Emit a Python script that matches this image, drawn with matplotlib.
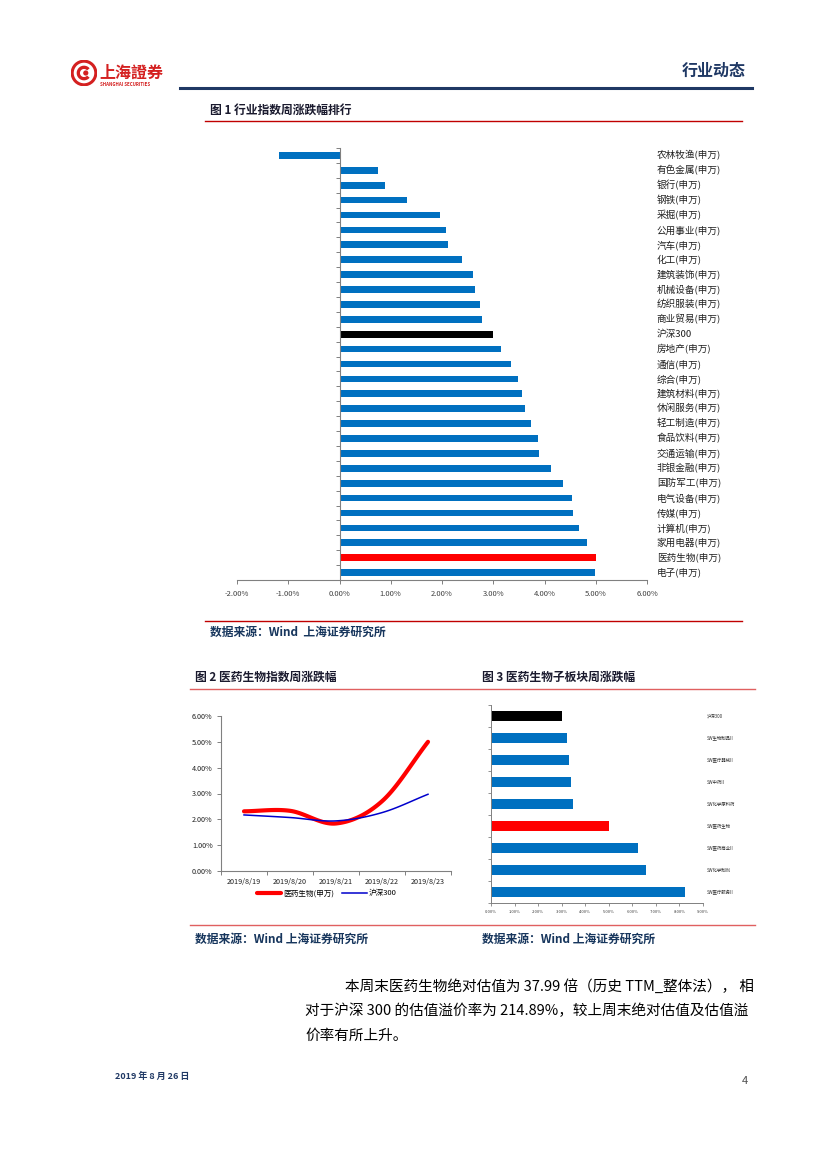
import numpy as np
import matplotlib.pyplot as plt
import matplotlib.transforms as mtransforms
from matplotlib.lines import Line2D
from matplotlib.patches import Circle, Wedge

plt.rcParams['font.family'] = ['Noto Sans CJK SC', 'DejaVu Sans']

################################################################
##### data

# figure 1: weekly change of industry indices (%)
INDUSTRIES = [
    "农林牧渔(申万)", "有色金属(申万)", "银行(申万)", "钢铁(申万)",
    "采掘(申万)", "公用事业(申万)", "汽车(申万)", "化工(申万)",
    "建筑装饰(申万)", "机械设备(申万)", "纺织服装(申万)", "商业贸易(申万)",
    "沪深300", "房地产(申万)", "通信(申万)", "综合(申万)",
    "建筑材料(申万)", "休闲服务(申万)", "轻工制造(申万)", "食品饮料(申万)",
    "交通运输(申万)", "非银金融(申万)", "国防军工(申万)", "电气设备(申万)",
    "传媒(申万)", "计算机(申万)", "家用电器(申万)", "医药生物(申万)",
    "电子(申万)",
]
INDUSTRY_CHANGE = [
    -1.18, 0.75, 0.89, 1.31,
    1.96, 2.08, 2.12, 2.39,
    2.61, 2.65, 2.74, 2.79,
    2.99, 3.15, 3.34, 3.48,
    3.56, 3.62, 3.74, 3.88,
    3.90, 4.12, 4.36, 4.53,
    4.55, 4.67, 4.83, 5.01,
    4.99,
]
FIG1_TICKS = [-2, -1, 0, 1, 2, 3, 4, 5, 6]

# figure 2: cumulative change over the week (%)
DATES = ["2019/8/19", "2019/8/20", "2019/8/21", "2019/8/22", "2019/8/23"]
PHARMA_LINE = [2.31, 2.33, 1.84, 2.70, 5.00]
HS300_LINE = [2.17, 2.07, 1.94, 2.26, 2.97]
FIG2_TICKS = [0, 1, 2, 3, 4, 5, 6]

# figure 3: pharma sub-sectors (%)
SUBSECTORS = [
    "沪深300", "SW生物制品II", "SW医疗器械II", "SW中药II", "SW化学原料药",
    "SW医药生物", "SW医药商业II", "SW化学制剂", "SW医疗服务II",
]
SUBSECTOR_CHANGE = [3.01, 3.23, 3.33, 3.38, 3.49, 5.03, 6.25, 6.58, 8.22]
FIG3_TICKS = [0, 1, 2, 3, 4, 5, 6, 7, 8, 9]

BLUE = "#0070C0"
NAVY = "#1F3864"
SOURCE_TEXT = "数据来源：Wind  上海证券研究所"

################################################################

W, H = 827, 1169
fig = plt.figure(figsize=(W / 100, H / 100), dpi=100)


def px_axes(x0, y0, x1, y1):
    # axes given by pixel corners (top-left origin)
    return fig.add_axes([x0 / W, 1 - y1 / H, (x1 - x0) / W, (y1 - y0) / H])


def px_text(x, y, s, **kw):
    return fig.text(x / W, 1 - y / H, s, **kw)


def px_hline(x0, x1, y, color, lw):
    fig.add_artist(Line2D([x0 / W, x1 / W], [1 - y / H, 1 - y / H],
                          color=color, lw=lw, transform=fig.transFigure))


def bar_colors(names):
    out = []
    for name in names:
        if "沪深300" in name:
            out.append("black")
        elif "医药生物" in name:
            out.append("#FF0000")
        else:
            out.append(BLUE)
    return out


def smooth(xs, ys, steps=24):
    # catmull-rom style curve like excel "smoothed line"
    xs = np.asarray(xs, float)
    ys = np.asarray(ys, float)
    n = len(xs)
    mx = np.zeros(n)
    my = np.zeros(n)
    for i in range(n):
        a = max(i - 1, 0)
        b = min(i + 1, n - 1)
        mx[i] = (xs[b] - xs[a]) / (b - a) if b != a else 0
        my[i] = (ys[b] - ys[a]) / (b - a) if b != a else 0
    px, py = [], []
    t = np.linspace(0, 1, steps)
    h00 = 2 * t**3 - 3 * t**2 + 1
    h10 = t**3 - 2 * t**2 + t
    h01 = -2 * t**3 + 3 * t**2
    h11 = t**3 - t**2
    for i in range(n - 1):
        px.extend(h00 * xs[i] + h10 * mx[i] + h01 * xs[i + 1] + h11 * mx[i + 1])
        py.extend(h00 * ys[i] + h10 * my[i] + h01 * ys[i + 1] + h11 * my[i + 1])
    return px, py


def pct(vals):
    return [f"{v:.2f}%" for v in vals]


# ---------------- header ----------------
logo = px_axes(71, 60, 97, 86)
logo.set_xlim(-1.1, 1.1)
logo.set_ylim(-1.1, 1.1)
logo.set_aspect("equal")
logo.axis("off")
logo.add_patch(Circle((0, 0), 1.0, fc="none", ec="#D42020", lw=2.2))
logo.add_patch(Wedge((0, 0), 0.62, 40, 320, width=0.28, fc="#D42020"))
logo.add_patch(Circle((0.15, 0), 0.22, fc="#D42020"))
px_text(99, 73, "上海證券", fontsize=11.5, fontweight="bold", color="#D42020",
        va="center", ha="left", family=["Noto Sans CJK TC", "DejaVu Sans"])
px_text(100, 84, "SHANGHAI SECURITIES", fontsize=3.2, fontweight="bold",
        color="#D42020", va="center", ha="left")
px_text(746, 71, "行业动态", fontsize=11.5, fontweight="bold", color=NAVY,
        va="center", ha="right")
px_hline(180, 752, 88, NAVY, 2.2)

# ---------------- figure 1 ----------------
px_text(210, 110, "图 1 行业指数周涨跌幅排行", fontsize=8.5, fontweight="bold",
        color="#1A1A2E", va="center", ha="left")
px_hline(205, 742, 121, "#C00000", 1.0)

ax1 = px_axes(237, 148, 647, 580)
n1 = len(INDUSTRIES)
ax1.barh(range(n1), INDUSTRY_CHANGE, height=0.45, color=bar_colors(INDUSTRIES))
ax1.set_ylim(n1 - 0.5, -0.5)
ax1.set_xlim(FIG1_TICKS[0], FIG1_TICKS[-1])
ax1.set_xticks(FIG1_TICKS)
ax1.set_xticklabels(pct(FIG1_TICKS), fontsize=5.5, color="#404040")
ax1.set_yticks([])
ax1.set_yticks(np.arange(-0.5, n1, 1), minor=True)
ax1.tick_params(axis="y", which="minor", length=3, color="#808080", width=0.7)
ax1.tick_params(axis="x", length=3, color="#808080", width=0.7, pad=4)
ax1.spines["left"].set_position(("data", 0))
for side in ["top", "right"]:
    ax1.spines[side].set_visible(False)
for side in ["left", "bottom"]:
    ax1.spines[side].set_color("#808080")
    ax1.spines[side].set_linewidth(0.8)
lab_tr = mtransforms.blended_transform_factory(ax1.transAxes, ax1.transData)
for i, name in enumerate(INDUSTRIES):
    ax1.text(1.024, i, name, transform=lab_tr, fontsize=6.9, va="center",
             ha="left", color="#202020")

px_hline(205, 742, 621, "#C00000", 1.0)
px_text(210, 632, SOURCE_TEXT, fontsize=8.5, fontweight="bold", color="#17365D",
        va="center", ha="left")

# ---------------- figure 2 / 3 titles ----------------
px_text(195, 677, "图 2 医药生物指数周涨跌幅", fontsize=8.5, fontweight="bold",
        color="#1A1A2E", va="center", ha="left")
px_text(482, 677, "图 3 医药生物子板块周涨跌幅", fontsize=8.5, fontweight="bold",
        color="#1A1A2E", va="center", ha="left")
px_hline(190, 755, 689, "#E06060", 1.0)

# ---------------- figure 2 ----------------
ax2 = px_axes(221, 716, 451, 871)
xs = np.arange(len(DATES))
sx, sy = smooth(xs, PHARMA_LINE)
ax2.plot(sx, sy, color="#FF0000", lw=3.0, solid_capstyle="round",
         label="医药生物(申万)")
sx, sy = smooth(xs, HS300_LINE)
ax2.plot(sx, sy, color="#0000CC", lw=1.1, label="沪深300")
ax2.set_xlim(-0.5, len(DATES) - 0.5)
ax2.set_ylim(FIG2_TICKS[0], FIG2_TICKS[-1])
ax2.set_yticks(FIG2_TICKS)
ax2.set_yticklabels(pct(FIG2_TICKS), fontsize=5.2, color="#202020")
ax2.set_xticks(xs)
ax2.set_xticklabels(DATES, fontsize=5.2, color="#202020")
ax2.set_xticks(np.arange(-0.5, len(DATES), 1), minor=True)
ax2.tick_params(axis="x", which="major", length=0, pad=5)
ax2.tick_params(axis="x", which="minor", length=3, color="#808080", width=0.7)
ax2.tick_params(axis="y", length=3, color="#808080", width=0.7, pad=3)
for side in ["top", "right"]:
    ax2.spines[side].set_visible(False)
for side in ["left", "bottom"]:
    ax2.spines[side].set_color("#808080")
    ax2.spines[side].set_linewidth(0.8)
ax2.legend(loc="center", bbox_to_anchor=(0.46, -0.145), ncol=2, frameon=False,
           fontsize=5.5, handlelength=3.2, columnspacing=1.0, handletextpad=0.3)

# ---------------- figure 3 ----------------
ax3 = px_axes(491, 705, 703, 903)
n3 = len(SUBSECTORS)
ax3.barh(range(n3), SUBSECTOR_CHANGE, height=0.45, color=bar_colors(SUBSECTORS))
ax3.set_ylim(n3 - 0.5, -0.5)
ax3.set_xlim(FIG3_TICKS[0], FIG3_TICKS[-1])
ax3.set_xticks(FIG3_TICKS)
ax3.set_xticklabels(pct(FIG3_TICKS), fontsize=3.0, color="#404040")
ax3.set_yticks([])
ax3.set_yticks(np.arange(-0.5, n3, 1), minor=True)
ax3.tick_params(axis="y", which="minor", length=2, color="#808080", width=0.6)
ax3.tick_params(axis="x", length=2, color="#808080", width=0.6, pad=3)
for side in ["top", "right"]:
    ax3.spines[side].set_visible(False)
for side in ["left", "bottom"]:
    ax3.spines[side].set_color("#808080")
    ax3.spines[side].set_linewidth(0.7)
lab_tr3 = mtransforms.blended_transform_factory(ax3.transAxes, ax3.transData)
for i, name in enumerate(SUBSECTORS):
    ax3.text(1.02, i, name, transform=lab_tr3, fontsize=3.2, va="center",
             ha="left", color="#303030")

px_hline(190, 755, 925, "#E06060", 1.0)
px_text(195, 939, "数据来源：Wind 上海证券研究所", fontsize=8.5, fontweight="bold",
        color="#17365D", va="center", ha="left")
px_text(482, 939, "数据来源：Wind 上海证券研究所", fontsize=8.5, fontweight="bold",
        color="#17365D", va="center", ha="left")

# ---------------- paragraph ----------------
px_text(345, 986, "本周末医药生物绝对估值为 37.99 倍（历史 TTM_整体法）， 相",
        fontsize=10.5, color="black", va="center", ha="left")
px_text(305, 1011, "对于沪深 300 的估值溢价率为 214.89%，较上周末绝对估值及估值溢",
        fontsize=10.5, color="black", va="center", ha="left")
px_text(305, 1036, "价率有所上升。", fontsize=10.5, color="black", va="center", ha="left")

# ---------------- footer ----------------
px_text(115, 1076, "2019 年 8 月 26 日", fontsize=6.5, fontweight="bold",
        color=NAVY, va="center", ha="left")
px_text(748, 1081, "4", fontsize=8, color="#505050", va="center", ha="right")

fig.savefig("out.png", dpi=100)
